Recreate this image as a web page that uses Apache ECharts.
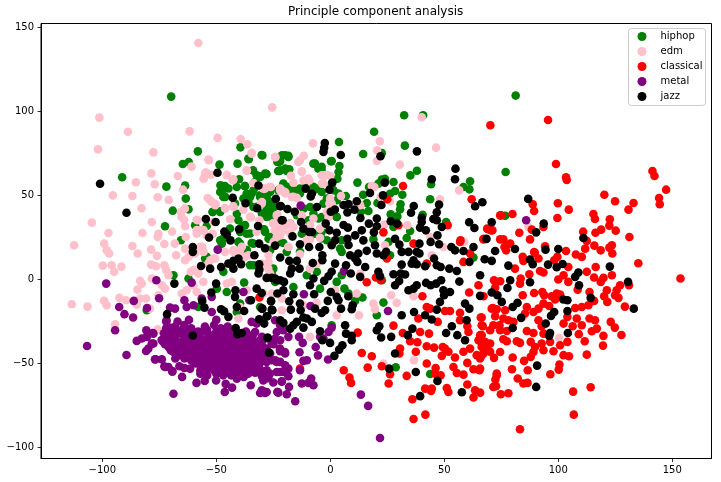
<!DOCTYPE html>
<html><head><meta charset="utf-8">
<script src="https://cdn.jsdelivr.net/npm/echarts@6/dist/echarts.min.js"></script>
<style>html,body{margin:0;padding:0;background:#fff}#c{width:721px;height:482px}</style>
</head><body><div id="c"></div>
<script>
const xTicks=[-100,-50,0,50,100,150];
const yTicks=[-100,-50,0,50,100,150];
const seriesNames=['hiphop','edm','classical','metal','jazz'];
const hiphop=[[-69.8,108.9],[-58.1,76.3],[-91.3,60.9],[-64.7,68.8],[-62.1,70],[-48.6,68.4],[-40.7,69],[-39.4,78.7],[-35.8,71.6],[-30.1,74.1],[-23.2,70],[-28,62.8],[-22.9,64.6],[-33.9,65],[-31.5,61.6],[-40,59.7],[-63.7,55.9],[-71.9,55.3],[-63.4,48.2],[-69.1,41],[-62.2,41.8],[-72.5,31.7],[-51.6,40.2],[-48.3,40.6],[-48.2,56.1],[-46.2,55.7],[-41,55.1],[-37.5,55.7],[-48.3,52.1],[-46.9,49.1],[-41.8,45.2],[-36.7,51.1],[-33.7,53.1],[-30.8,50.1],[-35.2,49.1],[-38.1,48.2],[-27.9,46.2],[-25,43.2],[-27.9,39.2],[-25.7,37.2],[-33.7,43.2],[-41,39.2],[-40.3,35.3],[-38.8,31.3],[-36.7,27.3],[-59.3,32.3],[-54.2,31.9],[-29,29.9],[-26.4,25.3],[-34.5,21.8],[-40.2,22.4],[-48.3,23.4],[-65.5,23.4],[-47.6,21.4],[-23.5,35.3],[32.4,97.8],[40.7,97.8],[19.2,88],[32.7,79.7],[3.8,81.9],[14.4,74.7],[22.6,75.3],[-29.8,73.9],[-21.2,73.9],[-18.4,73.6],[-22.5,70],[-22.3,64.6],[-19.8,66],[-18,65.6],[-7.4,69],[-5.2,66],[-3.8,65],[0.3,70.4],[4,67.6],[3.6,64],[3.1,60],[-28.2,62.8],[-30.8,61],[11.9,57.7],[22.6,59.5],[21.1,57.1],[24,59.9],[27.7,58.1],[17,55.1],[14.4,50.5],[28.4,52.7],[31.6,50.5],[26.2,51.1],[38,64.8],[35.1,62],[44.2,56.7],[61.3,58.5],[58.4,55.1],[61,53.7],[43.8,47.8],[6.8,49.7],[16,45.6],[20.7,45.6],[30.8,44.8],[30.6,41.8],[16.7,40.8],[13.4,40.2],[26.5,38.8],[29.4,37.6],[40.5,38.6],[50.8,34.3],[35,28.9],[27.7,31.3],[33.5,24.7],[25.5,22.4],[18.9,23.9],[2.8,37.2],[-5.2,54.1],[-7.4,53.1],[-13.3,54.1],[-16.2,51.1],[-26.4,52.1],[-28.6,47.2],[-25.7,46.2],[-27.9,41.2],[-25,37.2],[-8.9,43.2],[-11.8,42.2],[-3,45.2],[-3.8,37.2],[-7.4,39.2],[-29.3,29.7],[-12.5,27.3],[-6.7,27.3],[-27.1,24.3],[4.3,18.4],[81.3,109.5],[76.9,64],[76.7,38],[23.3,-13.7],[20.4,-21.2],[14.1,-10.7],[10.9,-12.7],[28.7,-52.2],[43.8,-56.2],[62.8,13.1],[22.6,-0.4],[2.8,-1.4],[6.2,-5.4],[8,-8.3],[-4.5,-5.4],[-16.2,-4.4],[0.6,-27.2],[-26.4,6.5],[-24.2,-1.4],[-13.3,16.5],[5,16.5],[5,2.6],[26.2,14.5],[-5.9,4.6],[-19.1,16.5],[-10.3,2.6],[-22,22.4],[-20.6,21.8],[5,23.4],[-54.9,12.5],[-33.7,8.5],[-46.9,4.6],[-49.8,-5.4],[-45.4,-7.4],[-37.8,-1.8],[-39.6,-14.3],[-41,-19.3],[-30.8,-16.3],[-62.2,0.6],[-57.9,-16.3],[-80.5,-18.3],[-69.3,-29.8],[-25,6.5],[-33.7,21.4],[-47.6,22.4],[-39.6,21.4],[-68.8,2.6],[-54.2,13.5],[-47.2,55.6],[-47.6,52.2],[-44.7,54.2],[-46.1,49.2],[-37.4,55.6],[-33,58.2],[-32.3,62.1],[-28.6,63.1],[-35.9,72],[-22,70.5],[-19.8,74],[-18.4,73],[-22,65.1],[-19.1,64.7],[-6.7,69],[-3.8,67.1],[0.6,70.5],[-30.8,49.2],[-27.9,49.2],[-34.5,51.2],[-35.9,46.2],[-27.9,43.3],[-25.7,39.3],[-27.9,37.3],[-19.1,55.2],[-16.2,53.2],[-7.4,55.2],[-3.8,52.2],[-1.5,48.2],[2.8,47.2],[-9.6,35.3],[-5.2,36.3],[-3.8,28.4],[-3.8,24.4],[-35.2,8.6],[-36.6,17.5],[-40.3,22.4],[-46.9,24.4],[-51.6,40.3],[-48.3,40.3],[-44,30.4],[-37.4,32.4],[-35.2,27.4],[-28.6,28.4],[-26.4,17.5],[-25.7,3.6],[-39.6,28.4],[-20.6,57.2],[-11,58.2],[-22.8,53.2],[-13.3,51.2],[-14.7,38.3],[-17.6,33.4],[-1.5,23.4],[2.8,37.3],[3.6,51.2],[0.6,57.2],[1.4,53.2],[-32.3,43.3],[-24.2,43.3],[-30,39.3]];
const edm=[[-57.9,140.8],[-25.5,102.5],[-101.3,96.4],[-88.8,88],[-61.7,88.2],[-49.4,84.3],[-39.3,83.7],[-36.4,80.5],[-101.9,77.5],[-77.6,75.7],[-34.5,74.9],[-24.1,72.8],[-53.2,71],[-60.9,67.2],[-78.5,63.2],[-66.9,61.6],[-85.3,57.9],[-77,56.7],[-54.6,63.8],[-55.4,60.5],[-52.4,62.4],[-45.3,62.4],[-42.8,59.1],[-36.7,64.8],[-33.7,57.5],[-29.8,54.5],[-26.1,55.1],[-22,53.1],[-64.6,53.5],[-95.4,50.1],[-86.8,49.7],[-75.7,49],[-70.9,47.4],[-53.8,48.5],[-52,46.2],[-50.3,45],[-82.8,42.4],[-63.8,42.2],[-65.5,40.2],[-42.5,43.2],[-46.2,42.6],[-38.1,41.6],[-104.6,33.9],[-78.3,34.3],[-65.3,37.2],[-64.1,35.6],[-58.3,35.3],[-44,35.9],[-34.8,36.9],[-31.1,35.3],[-30.2,45.6],[-23.2,38.6],[-63.7,31.7],[-97.3,27.7],[-82.4,27.7],[-75.4,27.3],[-75.7,25.3],[-69.4,28.5],[-63.4,25.3],[-58.6,27.3],[-56.7,29.3],[-54.2,26.3],[-51.6,27.3],[-32.3,28.3],[-23.5,30.3],[-112.4,20.4],[-99.2,21.4],[-86.8,20],[-72.8,21.2],[-68.2,21.4],[-78.6,17.8],[-56.1,19.4],[-98.1,17.4],[-25,33.7],[-113.4,-14.7],[-106.5,-16.1],[-97,15.5],[-84.5,15.5],[-76,14.1],[-67.6,14.5],[-63.7,11.5],[-62.2,13.5],[-99.8,8.3],[-95.9,8.5],[-94.8,4.6],[-91.6,7.7],[-78.6,8.9],[-76.4,7.9],[-72.8,8.5],[-72,5.5],[-71,2.6],[-61.2,4.6],[-83.4,-0.8],[-84.6,-6],[-82.7,-2.4],[-78.3,0.6],[-73.9,-3.4],[-75.4,-9.3],[-72.5,-5.4],[-65.2,-8.3],[-63,-6.4],[-60,-3.4],[-55.7,-1.4],[-58.6,-7.4],[-92.5,-10.9],[-89.6,-12.3],[-99.2,-12.7],[-98.1,-15.3],[-83.4,-11.3],[-80.8,-11.3],[-84.9,-14.9],[-79.1,-17.3],[-94.4,-26.6],[-75.7,-29.6],[-57.1,19.4],[-59.3,15.5],[-53.5,9.5],[-50.5,12.5],[-46.2,16.5],[-42.5,16.5],[-39.6,17.4],[-35.9,14.5],[-43.2,-1.4],[-45.4,-2.4],[-27.2,6.5],[-36.7,-6.4],[-39.6,-16.3],[-40.3,-23.2],[-63.7,18.4],[-57.9,3.6],[-7.6,81.1],[21.7,82.3],[20.5,76.9],[20.4,70.6],[46.4,78.5],[30.5,68.4],[40.1,96.6],[-11.6,73.7],[-14,70],[-12.5,64.4],[-17.3,61.8],[-16.2,57.7],[-29.3,54.1],[-11.8,59],[-9.2,59],[-3.6,57.1],[-2.3,62],[0,61.6],[-21.3,53.1],[-19.8,52.1],[-16.9,49.1],[-14.7,48.6],[4.7,49.7],[-0.1,48.2],[-0.4,45.2],[18.2,55.7],[19.3,55.1],[26.2,46.6],[22.1,49.1],[48.1,47.8],[56.5,53.1],[33.8,32.3],[23.7,32.7],[-30.1,45.2],[-23.5,38.2],[-25,33.3],[-20.6,31.3],[-17.6,33.3],[-16.2,31.3],[-24.2,29.3],[-22,26.3],[-7.4,36.3],[-4.5,30.3],[-12.5,38.2],[-8.9,32.3],[-4.5,24.9],[-8.9,23.7],[-24.9,22.4],[-18.4,19.4],[-0.8,37.2],[13.1,44.2],[58.7,22.4],[43.8,25.3],[49.6,19.4],[24,20.4],[-28.6,18.4],[-27.1,14.5],[-8.9,6.5],[-5.9,9.5],[-13.3,15.1],[-26.4,3.6],[-21.3,-18.3],[-21.3,-11.3],[-25.7,-8.3],[-29.3,-8.3],[-30,-24.2],[-8.9,-34.1],[-11.8,-15.3],[-6,-13.9],[2.8,-21.2],[12.6,-21.2],[11.6,-8.3],[2.1,-6.4],[18.9,-14.3],[19.6,-17.7],[26.7,-9.3],[29.1,-13.9],[36.5,-9.9],[56.9,-19.3],[36.7,-48],[23.3,-50],[13.1,3.6],[44.5,14.5],[100.3,-34.7],[84.7,-22.2],[86.9,31.3],[-53.5,71.4],[-54.9,63],[-55.6,60],[-45.4,62.1],[-42.5,59.6],[-36.6,65.1],[-34.5,75.4],[-24.2,73],[-13.3,71],[-12.5,64.1],[-9.6,60.1],[-3,57.2],[-3.8,62.1],[-1.5,62.4],[-22,54.2],[-19.8,51.2],[-16.2,49.2],[-26.4,55.2],[-28.6,54.2],[-30,46.2],[-52.7,47.2],[-50.5,44.3],[-46.1,42.3],[-42.5,43.6],[-35.2,37.3],[-24.2,29.4],[-23.5,33.4],[-20.6,29.4],[-19.1,32.4],[-17.6,27.4],[-18.4,19.5],[-23.5,25.4],[-38.8,19.5],[-42.5,17.5],[-51.3,12.5],[-56.4,19.5],[-58.6,35.6],[-58.6,29.4],[-55.6,29.4],[-51.3,34.3],[-52.7,11.5],[-55.6,16.5],[-60,5.6],[-1.5,40.3],[0.6,45.3],[-30,9.5],[-27.1,10.5],[-10.3,23.4],[-37.4,13.5]];
const classical=[[70.2,91.8],[95.5,95],[99,68.8],[103.4,60.9],[103.7,59.3],[141.3,64.6],[142.2,61.6],[147.3,53.5],[120.2,50.5],[124.9,46.6],[133,45.6],[130.8,41.6],[144.2,48.5],[144.5,44.8],[88.8,44.8],[89.4,40.8],[99.8,45.4],[104.6,41.6],[99.6,36.6],[115.4,39],[116.1,36],[122.6,35.9],[122.4,32.1],[125.2,29.1],[118.8,29.7],[116.3,27.9],[110.9,28.5],[112.5,23],[131.2,25.3],[79.9,39],[74.9,38.2],[68.8,30.3],[70.4,29.3],[82.9,27.9],[88.4,29.7],[93.5,31.3],[87.6,23.9],[75.9,23.9],[78.9,21.4],[76.4,19.4],[94.2,19.8],[111.8,18.4],[115.8,20.2],[118.6,17.4],[123.5,20.4],[122.4,19],[89.4,16.4],[103.4,17],[67.2,23.9],[153.6,0.6],[135.1,9.7],[123.7,15.5],[110.3,13.5],[107.7,14.9],[99.6,13.5],[98.2,11.5],[89.7,15.9],[91.3,12.5],[84.4,13.5],[84.7,11.1],[77.1,17.4],[81,6.5],[92,5.1],[93.5,4.2],[87.3,3.2],[102.3,2.6],[104.4,7.5],[112.5,4.6],[116.4,7.5],[123.5,2.6],[115.7,1.2],[119.8,1],[118.6,-1.4],[100,0],[104.4,-1.4],[108.5,-6],[83.5,0.6],[83.2,-2.4],[71.8,-0.4],[74.5,-1],[72.3,-4.8],[67.2,-9.9],[84.4,-9.3],[89.4,-8],[93,-7.4],[93.8,-9.3],[97.1,-9.9],[99.3,-8.3],[100.8,-8.9],[98.6,-11.9],[113.7,-7.4],[115.7,-12.7],[121.3,-6.4],[120.1,-9.9],[121.5,-13.3],[124.9,-9.3],[126.4,-10.9],[125.6,-6.4],[127.1,-3.4],[131,-3.4],[129.2,-16.1],[123,-25.2],[124.8,-28.6],[127.7,-33],[119.8,-33.5],[119.6,-39.3],[116.9,-29.2],[114.7,-30.8],[116.1,-24.2],[113.7,-23.2],[113.2,-15.3],[110.3,-16.3],[107.4,-16.9],[108.1,-23.2],[110.3,-27.2],[106.3,-27.8],[109,-32.5],[111.6,-36.7],[112.5,-44.7],[104,-37.1],[100.8,-39.1],[97.9,-42.7],[93.5,-42.1],[92.7,-38.1],[96.4,-37.1],[102.3,-45],[104.7,-45.6],[102.3,-26.2],[104,-22.2],[87.9,-37.1],[89.8,-40.1],[89.1,-43.1],[87.9,-46],[85,-48.4],[80,-46.4],[74.5,-43.1],[71.8,-46.6],[79.7,-53.4],[86.6,-54],[100.5,-50.6],[100.2,-53.6],[96.5,-56.4],[73,-56],[72.4,-59.5],[82.2,-58.9],[84.7,-61.9],[86.5,-61.5],[71.5,-63.9],[72.7,-63.5],[114.2,-64.1],[106.5,-66.7],[78.1,-67.7],[74.8,-68.3],[65.7,-67.3],[106.8,-80.4],[83.2,-89.1],[71.3,-16.9],[73,-17.7],[76.7,-18.3],[86.2,-16.3],[89.1,-19.3],[91.3,-17.3],[93.5,-14.3],[96,-15.7],[85.4,-20.2],[72.3,-21.8],[75.9,-23.2],[78.1,-24.2],[80.3,-25.2],[66.4,-22.6],[91.3,-24.2],[92.7,-27.8],[71.5,-27.2],[74.5,-30.2],[77.4,-30.6],[70.1,-30.2],[66.9,-27.8],[86.2,-30.6],[89.1,-31.8],[81.8,-36.7],[83.2,-37.7],[75.9,-35.5],[77.4,-36.7],[70.1,-38.1],[65.7,-33.1],[66.4,-38.1],[68.6,-42.1],[66.4,-45],[93.5,-32.2],[65.7,-53],[16,-1.6],[20,1.2],[22.1,-0.4],[24.8,12.5],[61.3,15.5],[58.4,10.5],[65,-3.4],[60.9,-7.7],[71.5,-7.4],[70.8,-17.3],[66,-22.6],[66.4,-27.2],[60.1,-27.8],[56.9,-24.2],[60.6,-31.2],[74.2,-27.2],[66.4,-33.1],[65,-36.1],[67.9,-37.1],[66.4,-40.1],[64.2,-45],[67.2,-44],[70.1,-43],[65.7,-47],[61.3,-41.1],[58.4,-43],[54.7,-46.4],[50.3,-41.1],[51.8,-43],[49.3,-40.1],[48.9,-45.4],[60.1,-49.6],[62.8,-53.4],[65.4,-54],[54,-52],[55.5,-55.6],[58.4,-56.6],[73,-56.9],[60.1,-62.5],[51.1,-64.5],[51.8,-66.9],[62.8,-70.2],[63.5,-65.9],[46.2,-52.6],[46,-56],[48.4,-57],[42.3,-50],[44.5,-64.9],[44.2,-66.3],[41.6,-64.9],[36,-71.2],[36.5,-83],[41.7,-80.4],[33.5,-57.3],[26.2,-56.4],[25.6,-61.9],[22.6,-51.6],[5.9,-54],[8.4,-58.3],[9.1,-61.5],[16.4,-52.4],[18.2,-45.6],[13.8,-43.7],[12,-31.6],[27.7,-27.4],[31.8,-31.8],[35,-36.7],[38.2,-37.3],[37.5,-43],[30.6,-41.1],[30.3,-44],[39.4,-31.2],[43.3,-32.2],[42.3,-39.7],[45.5,-40.5],[38.6,-23.2],[47.1,-25.2],[43.8,-17.3],[42.3,-16.3],[40.4,-9.9],[50.3,-18.7],[52.5,-18.7],[56.9,-19.9],[36.5,21.4],[56.9,22.4],[42.3,9.5],[31.9,55.7],[25,47.8],[62,47.8],[74.5,38.2],[51.5,32.3],[29.9,32.3],[23.3,28.1],[57.1,23.3],[69.3,29.9],[71.1,29.3],[67.2,24.2],[74.5,23.9],[-13.3,-53],[-31.1,-10.7]];
const metal=[[-98.3,-2.4],[-60.8,-1.8],[-76.3,-0.4],[-49.4,17.8],[-86.2,-12.7],[-75.1,-11.1],[-80.4,-16.9],[-92.6,-16.3],[-90.3,-20.6],[-86.5,-22.6],[-94.4,-30.2],[-106.7,-39.5],[-89.4,-44.9],[-80.7,-30.2],[-77.9,-31.8],[-80.5,-34.1],[-82.7,-35.1],[-84.9,-36.5],[-78.3,-38.1],[-79.8,-41.1],[-80.8,-42.5],[-76.6,-47.4],[-73.9,-47.4],[-72.8,-51.6],[-71,-52],[-69.3,-54.8],[-65,-57.9],[-66.2,-51.6],[-64,-52.6],[-61.5,-53],[-68.8,-68],[-58.7,-61.5],[-55.1,-60.3],[-50.1,-60.1],[-45.9,-62.1],[-46.3,-66.9],[-43.1,-64.3],[-34.9,-62.9],[-29.6,-66.5],[-28.6,-67.5],[-23.2,-66.9],[-25,-61.3],[-56.4,-11.3],[-64,-12.3],[-52,-10.3],[-63,-16.3],[-60,-15.3],[-70.3,-16.7],[-68.1,-17.3],[-52,-19.3],[-35.5,-12.3],[-38.1,-7.4],[-34.5,-25.2],[-32.3,-26.2],[-33,-31.2],[-24.2,-24.2],[-22,-25.2],[-29.3,-35.5],[-25,-38.5],[-22,-42.1],[-23.8,-48.4],[-22,-49],[-27.9,-54],[-30,-57.5],[-27.9,-58.9],[-22,-55],[-72,-25],[-67,-25],[-62,-24],[-50,-24],[-72,-29],[-68,-28],[-64,-27],[-61,-29],[-55,-28],[-51,-27],[-48,-29],[-45,-28],[-73,-32],[-70,-33],[-66,-32],[-63,-31],[-59,-33],[-56,-31],[-53,-33],[-50,-31],[-47,-33],[-44,-32],[-37,-31],[-34,-33],[-74,-36],[-71,-37],[-68,-35],[-65,-37],[-62,-35],[-59,-37],[-56,-36],[-53,-35],[-50,-37],[-47,-35],[-44,-37],[-41,-35],[-38,-36],[-36,-35],[-33,-37],[-71,-40],[-68,-41],[-65,-39],[-62,-41],[-59,-40],[-56,-39],[-53,-41],[-50,-40],[-47,-39],[-44,-41],[-41,-40],[-38,-39],[-36,-41],[-33,-40],[-30,-39],[-69,-43],[-66,-45],[-64,-43],[-61,-44],[-58,-45],[-55,-43],[-52,-44],[-49,-45],[-46,-43],[-43,-44],[-40,-45],[-37,-43],[-34,-44],[-31,-45],[-29,-43],[-68,-47],[-64,-47],[-61,-48],[-58,-47],[-55,-48],[-52,-47],[-49,-48],[-46,-47],[-43,-48],[-40,-47],[-37,-48],[-34,-47],[-31,-48],[-29,-47],[-59,-50],[-56,-51],[-53,-50],[-51,-51],[-48,-50],[-45,-51],[-42,-50],[-39,-51],[-36,-50],[-33,-51],[-31,-50],[-57,-54],[-54,-53],[-51,-54],[-48,-53],[-45,-54],[-42,-53],[-39,-54],[-36,-53],[-34,-54],[-57,-56],[-54,-57],[-50,-56],[-47,-57],[-43,-55],[-40,-57],[-38,-58],[-41,-59],[-11.6,-8.7],[-8.7,-15.7],[-22,-27.2],[-20.6,-30.2],[-23.5,-31.2],[-22,-36.1],[-18.4,-34.1],[-13.7,-34.1],[-12.1,-37.7],[-13.5,-43.3],[-10.3,-48],[-11.8,-48.4],[-6.4,-40.1],[-5.4,-45.1],[-1,-47.6],[0.6,-28.6],[-0.8,-31.2],[-3,-35.1],[-4.5,-34.1],[-13.3,-54],[-22,-42.7],[-19.8,-44],[-25.7,-48],[-23.5,-49],[-19.8,-51],[-18.4,-53],[-18.4,-57.5],[-20.6,-55],[-23.5,-55],[-27.1,-57.9],[-21.3,-60.5],[-18.1,-63.9],[-22.8,-67.3],[-19.1,-68.3],[-28.6,-66.9],[-30.8,-67.5],[-15.4,-72.4],[-12.5,-61.9],[-9.6,-61.5],[-8.4,-58.9],[-7.4,-62.9],[13.4,-68.5],[16.6,-75.2],[21.8,-94.3],[6,5.1],[25.3,-18.7],[-30,-42],[-30,-48],[-30.8,-36.1],[-27.9,-49],[-30,-34.1],[-26.4,-44],[-13,44],[85.9,35.3],[-70.5,-28.5],[-67.5,-30],[-64.5,-29.5],[-58,-31],[-54,-30],[-49.5,-29.5],[-46,-30.5],[-43,-30],[-41,-33],[-72,-34.5],[-69,-34],[-64,-34],[-60.5,-35],[-57.5,-34.5],[-54.5,-35.5],[-51.5,-34],[-48.5,-34.5],[-45.5,-35],[-42.5,-34],[-39.5,-37],[-35,-38],[-72.5,-38.5],[-69.5,-38.5],[-66.5,-38],[-63.5,-39],[-60.5,-38.5],[-57.5,-38],[-54.5,-38.5],[-51.5,-38.5],[-48.5,-38],[-45.5,-38.5],[-42.5,-38],[-39.5,-38.5],[-34.5,-39],[-31.5,-38],[-70,-42],[-67,-43],[-63,-41.5],[-60.5,-42.5],[-57.5,-42],[-54.5,-41.5],[-51.5,-42.5],[-48.5,-42],[-45.5,-41.5],[-42.5,-42.5],[-39.5,-42],[-36.5,-42.5],[-33,-42],[-30.5,-42],[-28,-41],[-62.5,-46],[-59.5,-46],[-56.5,-45.5],[-53.5,-46],[-50.5,-46],[-47.5,-45.5],[-44.5,-46],[-41.5,-45.5],[-38.5,-46],[-35.5,-45.5],[-32.5,-46],[-30,-45.5],[-60,-48.5],[-57,-49],[-54,-49],[-51,-49],[-48,-48.5],[-45,-49.5],[-42,-48.5],[-39,-49],[-36,-48.5],[-33,-49],[-55,-52],[-52,-52.5],[-49,-52],[-46,-52],[-43,-51.5],[-40,-52.5],[-37,-52],[-34,-52],[-31,-53],[-46,-55.5],[-43.5,-57],[-41,-55.5],[-38,-55.5],[-36,-56],[-33,-55.5],[-44.5,-53],[-76.9,-47.5],[-72.5,-52],[-69.3,-54.4],[-28.7,-55],[-26.5,-56],[-29.4,-60],[-21.3,-60.8],[-23.1,-66.9],[-30.1,-65.9],[-27.9,-66.9],[-24.3,-48],[-19.9,-43.1],[-22.1,-41.1],[-25.7,-38.1],[-24.3,-35.2],[-20.6,-29.2],[-77.6,-32.2],[-77.6,-38.1],[-73.3,-37.2],[-71.8,-24.3]];
const jazz=[[-101,57],[-89.4,39.8],[-49.5,63.6],[-31.5,56],[-42.8,48.7],[-37.2,45.4],[-32.1,42.4],[-23.9,48],[-54.6,36],[-50.3,34.3],[-31.7,31.9],[-40,29.9],[-46.5,28.5],[-45.4,26.9],[-53.2,25],[-43.8,23.3],[-31.2,21.4],[-24.2,20.2],[-28.6,18.6],[-60.3,19.4],[-22,43.6],[-21.3,35.3],[-2.4,81.3],[-2.7,78.5],[-3,76],[4.6,74.1],[22,73.4],[38,76.3],[54.9,66],[54.7,59.7],[44.5,59.7],[23.9,57.7],[0.9,57.7],[-0.4,53.5],[-10.8,54.1],[-8.1,51.1],[-8.6,49.5],[-21.7,43.8],[-18.8,42],[-15.6,40.4],[-5.9,43.2],[17.4,51.5],[23.1,50.1],[22.4,44.4],[11.6,46.6],[8,45],[5.8,44.4],[7.5,40],[10.6,41.6],[2,41.6],[0.2,40.4],[13.2,36.6],[16.9,33.3],[20.4,36.3],[20.4,31.7],[19.1,28.1],[26.5,34.7],[29.3,33.3],[35.4,39.8],[36.6,43.8],[47.7,44.6],[66.7,46],[63.5,43.6],[60.9,34.1],[63.2,30.7],[70.8,34.1],[68.5,24.2],[40.1,36.8],[40.1,34.3],[39.4,30.9],[41.9,29.3],[46.7,40],[45.2,36],[46.7,35.3],[48.9,31.3],[47,26.3],[44,22.4],[47.7,21],[28.4,24.2],[30.3,20.8],[39.1,21.4],[53.1,19.4],[62.8,19.4],[-2,33.3],[-0.4,29.3],[2.8,27.9],[5.8,32.5],[7.7,30.9],[13.8,29.3],[10.9,26.3],[7.5,24.3],[14.5,23.3],[19.6,20.4],[2.1,23.3],[0.6,20.4],[-9.3,28.3],[-8.1,28.3],[-12.8,34.3],[-11.8,30.3],[-16.6,25.7],[-20.9,35.3],[-13.3,21],[-9.3,19.4],[-4.8,19.4],[86.8,48],[93.6,33.3],[90.3,28.1],[111,24.7],[72.3,17],[81,18.2],[94.4,17.8],[100,18.2],[67.7,12.1],[70.8,11.1],[87.6,11.9],[88.8,9.1],[78.1,8.3],[95.5,8.9],[99.3,7.3],[101.9,9.3],[122.6,7.7],[108.8,4.2],[107.4,1.6],[65.7,2.6],[87.6,-1.6],[78.9,-0.4],[77.7,-5],[109.1,-3.4],[130.6,-1.4],[70.8,-7.7],[73.3,-9.3],[75.2,-13.3],[65.7,-9.7],[82.1,-13.9],[80,-16.3],[102.2,-11.9],[104,-12.3],[114.2,-10.9],[133.1,-17.3],[104,-18.7],[98.2,-19.3],[96.8,-21.6],[83.7,-22.8],[94.5,-26.2],[80,-28.8],[104.2,-31.8],[96.4,-31.8],[96,-33.5],[90.7,-51.2],[90.3,-63.9],[8,20.6],[8.7,14.5],[12.3,15.5],[10.9,12.5],[11.9,10.5],[16,17.1],[20.4,15.5],[24.5,16.5],[23.3,14.5],[31.3,16.5],[34.3,16.5],[37.9,16.5],[39.1,15.5],[36.5,11.5],[35.7,9.5],[37.9,9.1],[41.6,7.9],[45.5,12.5],[46.7,8.5],[48.4,7.5],[54.7,17.4],[58.4,17],[61,10.5],[52.2,6.5],[55.5,5.1],[56.6,-1.2],[42,-2],[31.3,8.9],[30.9,3.6],[32.8,3],[30.2,-0.8],[28.4,-3.4],[27.7,3.2],[21.1,4.6],[21.8,2],[15.3,7.5],[13.1,1.6],[9,3.6],[6.9,8.5],[2.1,9.5],[0.6,4.6],[-0.8,2],[-2.7,-0.8],[-7.4,0.6],[-8.9,-3.4],[-3.5,14.5],[-3.5,11.5],[-7.7,9.9],[-14.7,11.1],[-18,11.1],[-22,13.1],[-16.9,6.5],[-17.6,3.6],[-13.5,6.5],[-20.3,-1.4],[-22,-0.4],[-24.2,0.6],[-20.6,-6.4],[-16.2,-8.7],[-7.1,-8.7],[0.2,-7.4],[2.8,-10.3],[3.6,-12.3],[7.9,-9.9],[9.8,-15.3],[9.4,-17.7],[4.7,-17.3],[-1.1,-12.7],[-3.8,-19.9],[-2.3,-18.3],[-6.7,-17.3],[-26,-12.9],[-18,-12.9],[-17.3,-17.9],[-13.3,-14.3],[-13,-18.3],[-30,-17.3],[-25.7,-17.9],[-27.9,-21.8],[-22,-24.2],[-20.6,-25.8],[-11.8,-22.6],[-10.3,-23.2],[-8.1,-25.2],[-14.7,-25.2],[-16.2,-27.2],[-17.6,-29.2],[-11.8,-28.6],[-4.5,-30.8],[-3.5,-36.1],[-0.1,-37.7],[6.5,-27.2],[6.9,-32.2],[9.4,-33.5],[9.4,-36.1],[5.3,-39.1],[3.9,-41.7],[1.8,-45.4],[20.4,-30.2],[21.5,-27.8],[22.3,-34.5],[26.7,-34.1],[31.3,-21.2],[36.7,-19.3],[41.6,-21.2],[44.5,-23.8],[46.7,-17.9],[48.1,-13.3],[49.6,-6.4],[52.5,-7.4],[49.9,-9.3],[44,-3.4],[46.4,-2.4],[48.6,-0.4],[36.5,-5.4],[34.3,-6.4],[37.9,-3.4],[59.1,-14.3],[61,-17.3],[59.8,-24.2],[59.1,-36.1],[55.7,-33.1],[53.3,-27.8],[50.8,-31.8],[36,-29.2],[34,-33.1],[28.4,-44],[25.8,-53],[37.5,-55],[47,-60.3],[39.4,-69.4],[57.7,-67.1],[-26.9,-43.5],[-27.6,-34.7],[-60.3,16.5],[-33.3,14.5],[-31.2,9.1],[-31.1,5.9],[-31.5,3.6],[-56.7,8.1],[-52.7,6.5],[-47.9,7.5],[-44.7,9.5],[-42.5,11.1],[-40.3,12.5],[-42.5,6.5],[-39.1,9.1],[-68.4,-2.4],[-50.1,-2.4],[-27.9,1],[-25.7,1],[-23.5,-0.4],[-52.2,-7.7],[-41.6,-6.4],[-41.8,-10.3],[-32.3,-5.4],[-30.1,-8],[-23.2,-8.3],[-34.8,-12.3],[-26,-12.7],[-56.2,-12.7],[-55.2,-16.7],[-41,-16.3],[-37.8,-18.7],[-29.8,-17.3],[-25.4,-18.3],[-47.9,-17.7],[-46.6,-18.9],[-44.7,-22.2],[-71.6,-20.6],[-31.2,-23.6],[-29,-26.2],[-27.6,-21.8],[-41.5,-28.8],[-40.8,-32.5],[-38.9,-31.8],[-60.3,-33.3],[-27.4,-34.7]];
const seriesData=[hiphop,edm,classical,metal,jazz];
const colors=['#008000','#ffc0cb','#ff0000','#800080','#000000'];
const font='"DejaVu Sans"';
const fmt=v=>String(v).replace('-','\u2212');
const chart=echarts.init(document.getElementById('c'),null,{renderer:'canvas'});
function ax(ticks,extra,margin,pad){
  return Object.assign({
    type:'value',splitLine:{show:false},
    axisLine:{show:true,onZero:false,lineStyle:{color:'#000',width:1}},
    axisTick:{show:true,length:3.5,lineStyle:{color:'#000',width:0.8},customValues:ticks},
    axisLabel:{color:'#000',fontFamily:font,fontSize:10,margin:margin,padding:pad,formatter:fmt,customValues:ticks}
  },extra);
}
chart.setOption({
  animation:false,backgroundColor:'#fff',
  title:{text:'Principle component analysis',left:288,top:3,padding:[3,0,0,0],
    textStyle:{fontFamily:font,fontSize:12,fontWeight:'normal',color:'#000'}},
  grid:{left:41,right:9.5,top:23.5,bottom:23.5,show:true,borderColor:'#000',borderWidth:1,backgroundColor:'#fff'},
  xAxis:ax(xTicks,{min:-126.9,max:167.2},6.5,[0,0,0,0]),
  yAxis:ax(yTicks,{min:-106.5,max:152.4},7,[2,0,0,0]),
  legend:{orient:'vertical',left:628.5,top:28.5,padding:[2,3,3,9],itemWidth:9,itemHeight:9,itemGap:3,
    icon:'circle',backgroundColor:'rgba(255,255,255,0.8)',borderColor:'#ccc',borderWidth:1,borderRadius:3,
    textStyle:{fontFamily:font,fontSize:10,color:'#000',padding:[0,0,0,9],lineHeight:12},
    data:seriesNames},
  series:seriesNames.map((n,i)=>({name:n,type:'scatter',data:seriesData[i],symbol:'circle',symbolSize:8.6,
    itemStyle:{color:colors[i],opacity:1},z:2+i,silent:true}))
});
</script></body></html>
